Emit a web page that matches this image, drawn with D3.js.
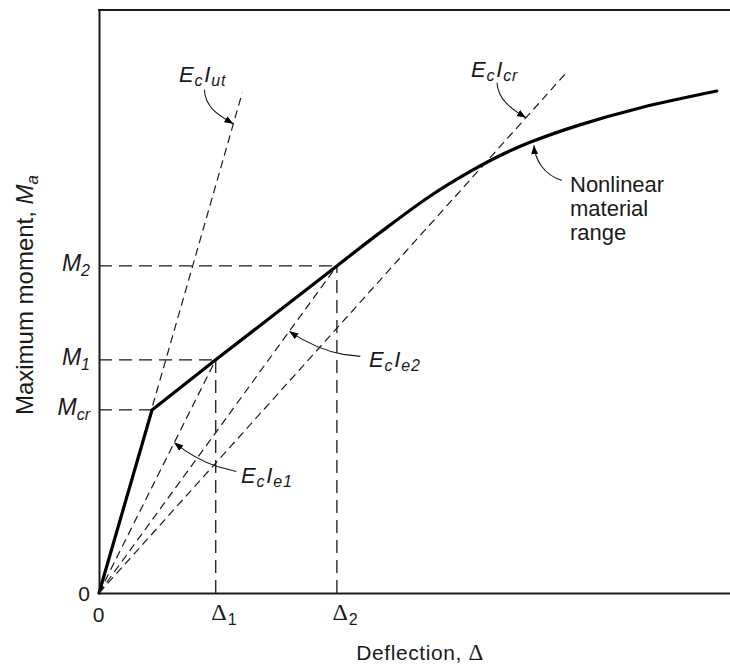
<!DOCTYPE html>
<html>
<head>
<meta charset="utf-8">
<script src="https://cdn.jsdelivr.net/npm/d3@7"></script>
<style>
  html, body { margin: 0; padding: 0; background: #fff; }
  svg { display: block; font-family: "Liberation Sans", Arial, Helvetica, sans-serif; }
</style>
</head>
<body>
<svg id="chart" width="730" height="665"></svg>
<script>
// Moment–deflection response of a concrete member, with the effective stiffness lines.
const deflectionTicks = [0, 18.5, 37.7];
const deflectionTickLabels = [["0", ""], ["Δ", "1"], ["Δ", "2"]];
const momentTicks = [0, 31.4, 40.0, 56.1];
const momentTickLabels = [["0", ""], ["M", "cr"], ["M", "1"], ["M", "2"]];

// Response curve: origin, cracking point, then into the nonlinear material range
const responseDeflection = [0, 8.4, 18.5, 37.7, 45.0, 52.5, 58.5, 63.5, 68.3, 76.2, 85.7, 97.9];
const responseMoment     = [0, 31.4, 40.0, 56.1, 62.2, 68.1, 72.1, 75.0, 77.3, 80.3, 83.2, 86.1];

// Stiffness lines drawn from the origin (end deflection / end moment)
const stiffnessNames = ["ut", "e1", "e2", "cr"];
const stiffnessEndDeflection = [22.7, 18.5, 37.7, 74.2];
const stiffnessEndMoment     = [85.8, 40.0, 56.1, 89.4];

const svg = d3.select("#chart");
const ink = "#1a1a1a";

const x = d3.scaleLinear().domain([0, 100]).range([99, 730]);
const y = d3.scaleLinear().domain([0, 100]).range([593, 10]);

// ---- dashed guide lines to M and Δ values ----
const guides = svg.append("g")
  .attr("fill", "none").attr("stroke", ink)
  .attr("stroke-width", 1.3).attr("stroke-dasharray", "13,7");

// moment level -> deflection where the response reaches it
const guideDeflections = [null, responseDeflection[1], deflectionTicks[1], deflectionTicks[2]];
momentTicks.forEach((m, i) => {
  if (i === 0) return;
  guides.append("line")
    .attr("x1", x(0)).attr("y1", y(m))
    .attr("x2", x(guideDeflections[i])).attr("y2", y(m));
});
const guideMoments = [null, momentTicks[2], momentTicks[3]];
deflectionTicks.forEach((d, i) => {
  if (i === 0) return;
  guides.append("line")
    .attr("x1", x(d)).attr("y1", y(0))
    .attr("x2", x(d)).attr("y2", y(guideMoments[i]));
});

// ---- stiffness lines ----
const stiff = svg.append("g")
  .attr("fill", "none").attr("stroke", ink)
  .attr("stroke-width", 1.2).attr("stroke-dasharray", "8,5");
stiffnessNames.forEach((n, i) => {
  stiff.append("line")
    .attr("x1", x(0)).attr("y1", y(0))
    .attr("x2", x(stiffnessEndDeflection[i])).attr("y2", y(stiffnessEndMoment[i]));
});

// ---- response curve ----
const pts = responseDeflection.map((d, i) => [x(d), y(responseMoment[i])]);
const straight = d3.line().curve(d3.curveLinear);
const smooth = d3.line().curve(d3.curveCatmullRom.alpha(0.5));
// sharp corner at cracking, straight run to M2, then a smooth bend
const pathD = straight(pts.slice(0, 4)) + smooth(pts.slice(3)).replace(/^M/, "L");
svg.append("path")
  .attr("d", pathD)
  .attr("fill", "none").attr("stroke", "#000")
  .attr("stroke-width", 3.2).attr("stroke-linejoin", "round").attr("stroke-linecap", "round");

// ---- axes ----
const axisStyle = g => {
  g.select(".domain").attr("stroke", ink).attr("stroke-width", 2);
  g.selectAll(".tick line").remove();
  g.selectAll(".tick text").remove();
};

const xAxisG = svg.append("g")
  .attr("transform", `translate(0,${y(0)})`)
  .call(d3.axisBottom(x).tickValues(deflectionTicks).tickSize(0).tickSizeOuter(0))
  .call(axisStyle);
xAxisG.selectAll(".tick").each(function(d, i) {
  const [main, sub] = deflectionTickLabels[i];
  const t = d3.select(this).append("text")
    .attr("fill", ink).attr("stroke", "none")
    .attr("font-family", "'Liberation Sans', Arial, sans-serif");
  if (!sub) {
    t.attr("text-anchor", "middle").attr("x", -1).attr("y", 29)
      .attr("font-size", 21).text(main);
  } else {
    t.attr("text-anchor", "start").attr("x", -5).attr("y", 27);
    t.append("tspan").attr("font-family", "'Liberation Serif', 'Times New Roman', serif")
      .attr("font-size", 24).text(main);
    t.append("tspan").attr("font-size", 16).attr("dy", 5).attr("dx", 1).text(sub);
  }
});

const yAxisG = svg.append("g")
  .attr("transform", `translate(${x(0)},0)`)
  .call(d3.axisLeft(y).tickValues(momentTicks).tickSize(0).tickSizeOuter(0))
  .call(axisStyle);
yAxisG.selectAll(".tick").each(function(d, i) {
  const [main, sub] = momentTickLabels[i];
  const t = d3.select(this).append("text")
    .attr("fill", ink).attr("stroke", "none")
    .attr("text-anchor", "end").attr("x", -9)
    .attr("font-family", "'Liberation Sans', Arial, sans-serif");
  if (!sub) {
    t.attr("y", 7).attr("font-size", 21).text(main);
  } else {
    t.attr("y", 5);
    t.append("tspan").attr("font-size", 23).attr("font-style", "italic").text(main);
    t.append("tspan").attr("font-size", 16).attr("font-style", "italic").attr("dy", 5).text(sub);
  }
});

// top border of the frame
svg.append("line")
  .attr("x1", x(0) - 1).attr("x2", x(100))
  .attr("y1", y(100)).attr("y2", y(100))
  .attr("stroke", ink).attr("stroke-width", 2);

// ---- axis titles ----
const xTitle = svg.append("text")
  .attr("x", 420).attr("y", 660)
  .attr("text-anchor", "middle").attr("font-size", 21).attr("fill", ink)
  .attr("letter-spacing", 0.6);
xTitle.append("tspan").text("Deflection, ");
xTitle.append("tspan").attr("font-family", "'Liberation Serif', 'Times New Roman', serif")
  .attr("font-size", 23).text("Δ");

const yTitle = svg.append("text")
  .attr("transform", "translate(33,295) rotate(-90)")
  .attr("text-anchor", "middle").attr("font-size", 24).attr("fill", ink);
yTitle.append("tspan").text("Maximum moment, ");
yTitle.append("tspan").attr("font-style", "italic").text("M");
yTitle.append("tspan").attr("font-style", "italic").attr("font-size", 17).attr("dy", 5).text("a");

// ---- callouts ----
const defs = svg.append("defs");
defs.append("marker")
  .attr("id", "head").attr("markerUnits", "userSpaceOnUse")
  .attr("viewBox", "0 0 9 7").attr("refX", 9).attr("refY", 3.5)
  .attr("markerWidth", 9).attr("markerHeight", 7).attr("orient", "auto")
  .append("path").attr("d", "M0,0L9,3.5L0,7z").attr("fill", "#000");

function stiffPoint(name, t) {
  const i = stiffnessNames.indexOf(name);
  return [x(0) + t * (x(stiffnessEndDeflection[i]) - x(0)),
          y(0) + t * (y(stiffnessEndMoment[i]) - y(0))];
}

function arrow(tip, segs) {
  // segs: path points given as offsets from the arrow tip
  const p = (o) => `${tip[0] + o[0]},${tip[1] + o[1]}`;
  let d = "M" + p(segs.start);
  (segs.lines || []).forEach(o => { d += "L" + p(o); });
  d += "C" + p(segs.c1) + " " + p(segs.c2) + " " + p([0, 0]);
  svg.append("path").attr("d", d)
    .attr("fill", "none").attr("stroke", ink).attr("stroke-width", 1.1)
    .attr("marker-end", "url(#head)");
}

function stiffLabel(px, py, sub) {
  const t = svg.append("text").attr("x", px).attr("y", py)
    .attr("fill", ink).attr("font-style", "italic").attr("letter-spacing", 0.8);
  t.append("tspan").attr("font-size", 22).text("E");
  t.append("tspan").attr("font-size", 16).attr("dy", 4).text("c");
  t.append("tspan").attr("font-size", 22).attr("dy", -4).attr("dx", 1).text("I");
  t.append("tspan").attr("font-size", 16).attr("dy", 4).text(sub);
}

// E_c I_ut
arrow(stiffPoint("ut", 0.938), { start: [-29, -34], c1: [-28, -16], c2: [-15, -9] });
stiffLabel(179, 82, "ut");

// E_c I_cr
arrow(stiffPoint("cr", 0.912), { start: [-29, -35], c1: [-28, -18], c2: [-15, -9] });
stiffLabel(471, 77, "cr");

// E_c I_e2
arrow(stiffPoint("e2", 0.80), { start: [71, 25], lines: [[54, 23]], c1: [31, 19], c2: [12, 8] });
stiffLabel(369, 367, "e2");

// E_c I_e1
arrow(stiffPoint("e1", 0.645), { start: [62, 29], lines: [[43, 24]], c1: [25, 18], c2: [10, 8] });
stiffLabel(241, 483, "e1");

// Nonlinear material range
const curveTip = [pts[8][0] + 4, pts[8][1] + 3];
arrow(curveTip, { start: [28, 35], c1: [10, 30], c2: [1, 14] });
const nl = svg.append("text").attr("fill", ink).attr("font-size", 22);
["Nonlinear", "material", "range"].forEach((s, i) => {
  nl.append("tspan").attr("x", 570).attr("y", 192 + i * 24).text(s);
});
</script>
</body>
</html>
